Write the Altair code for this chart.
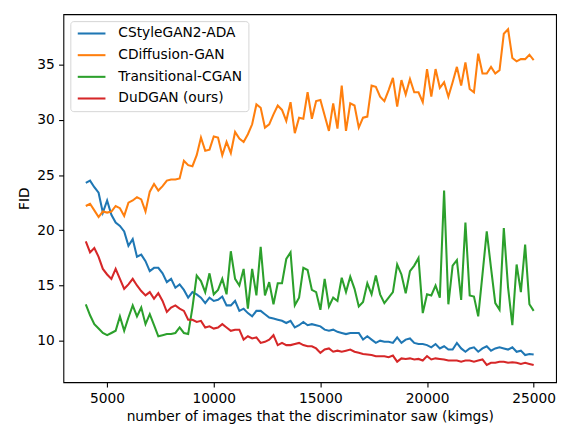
import altair as alt
import pandas as pd

kimg = list(range(4000, 25001, 200))

cstylegan2_ada = [24.3, 24.5, 23.9, 23.4, 21.6, 22.7, 21.4, 20.7, 20.4, 19.9,
                  18.6, 19.2, 17.6, 17.8, 17.2, 16.3, 16.6, 16.6, 16.1, 15.3,
                  15.6, 14.8, 15.1, 14.6, 13.9, 14.4, 14.2, 13.9, 13.4, 13.9,
                  13.6, 13.7, 14.0, 13.2, 13.2, 13.6, 12.7, 12.9, 12.5, 12.2,
                  12.7, 12.7, 12.4, 12.1, 12.0, 11.9, 11.8, 11.6, 11.8, 11.2,
                  11.4, 11.7, 11.4, 11.5, 11.4, 11.3, 11.0, 10.9, 11.0, 10.8,
                  10.7, 10.6, 10.7, 10.7, 10.7, 10.1, 10.4, 10.1, 9.8, 10.0,
                  9.9, 9.9, 9.8, 10.3, 9.8, 10.1, 10.2, 9.8, 9.7, 9.7,
                  9.6, 9.4, 9.7, 9.3, 9.5, 9.2, 9.2, 9.8, 9.3, 9.0,
                  9.3, 9.4, 9.0, 9.3, 9.5, 9.1, 9.3, 9.4, 9.3, 9.2,
                  9.4, 9.0, 9.1, 8.7, 8.8, 8.75]

cdiffusion_gan = [22.2, 22.4, 21.8, 21.2, 21.7, 21.6, 21.7, 22.2, 22.0, 21.3,
                  22.5, 22.7, 23.0, 22.8, 21.7, 23.5, 24.2, 23.6, 24.0, 24.5,
                  24.6, 24.6, 24.7, 26.3, 25.9, 25.8, 26.8, 28.4, 27.2, 27.3,
                  28.5, 28.4, 26.8, 28.0, 27.0, 28.9, 28.3, 28.0, 28.7, 29.6,
                  31.4, 31.1, 29.3, 29.6, 30.5, 31.3, 30.9, 29.9, 31.6, 28.8,
                  30.2, 30.1, 32.5, 30.1, 31.7, 31.8, 30.4, 29.0, 31.5, 29.2,
                  33.1, 29.0, 31.5, 31.3, 29.3, 30.2, 30.3, 33.1, 33.0, 32.1,
                  31.7, 32.7, 33.8, 31.2, 33.6, 32.3, 33.7, 32.5, 32.5, 31.6,
                  34.6, 32.1, 34.6, 32.9, 33.4, 32.1, 33.4, 34.8, 33.1, 35.2,
                  32.8, 32.5, 36.0, 34.2, 34.2, 34.8, 34.2, 34.5, 37.8, 38.2,
                  35.6, 35.3, 35.5, 35.5, 35.9, 35.4]

transitional_cgan = [13.3, 12.3, 11.5, 11.1, 10.7, 10.5, 10.7, 10.9, 12.2, 10.9,
                     12.1, 13.2, 12.2, 13.0, 11.5, 12.4, 11.4, 10.4, 10.5, 10.6,
                     10.6, 10.7, 11.2, 10.7, 10.6, 13.0, 15.9, 15.4, 14.4, 16.1,
                     14.2, 14.6, 15.6, 14.2, 18.1, 15.6, 15.0, 16.5, 12.9, 16.5,
                     14.1, 18.5, 14.1, 15.3, 13.3, 15.2, 15.2, 17.4, 18.0, 13.2,
                     13.9, 16.6, 16.4, 14.6, 14.4, 12.8, 15.6, 13.1, 13.9, 13.6,
                     15.7, 14.4, 15.8, 14.7, 13.1, 13.5, 15.2, 14.2, 15.9, 14.2,
                     13.4, 13.9, 14.4, 16.9, 16.0, 14.3, 16.3, 16.8, 17.5, 12.5,
                     14.2, 14.1, 15.0, 13.9, 23.6, 13.3, 16.8, 17.3, 13.7, 20.7,
                     14.1, 14.0, 12.2, 16.0, 19.9, 16.6, 13.4, 12.8, 20.2, 14.8,
                     11.4, 16.9, 14.4, 18.7, 13.3, 12.7]

dudgan = [19.0, 18.0, 18.4, 17.6, 16.5, 16.0, 15.6, 16.5, 15.6, 14.7,
          15.1, 15.6, 15.0, 14.5, 14.1, 14.4, 13.8, 14.3, 13.6, 12.6,
          13.0, 13.2, 12.9, 12.7, 11.9, 11.9, 11.7, 11.8, 11.2, 11.3,
          11.1, 11.2, 11.5, 11.2, 10.9, 11.0, 11.0, 10.1, 10.4, 10.2,
          10.3, 9.8, 9.9, 10.1, 10.5, 9.6, 9.8, 9.6, 9.6, 9.7,
          9.8, 9.6, 9.5, 9.5, 9.3, 8.9, 9.2, 9.3, 9.0, 9.1,
          9.0, 9.1, 9.2, 9.0, 8.9, 8.8, 8.75, 8.7, 8.6, 8.6,
          8.6, 8.5, 8.65, 8.1, 8.4, 8.35, 8.4, 8.3, 8.35, 8.2,
          8.6, 8.3, 8.4, 8.35, 8.3, 8.2, 8.2, 8.2, 8.1, 8.2,
          8.2, 8.1, 8.2, 8.3, 7.8, 8.0, 8.0, 8.1, 8.1, 8.0,
          8.05, 8.0, 7.9, 8.0, 7.9, 7.8]

series_names = ["CStyleGAN2-ADA", "CDiffusion-GAN", "Transitional-CGAN", "DuDGAN (ours)"]
series_values = [cstylegan2_ada, cdiffusion_gan, transitional_cgan, dudgan]
series_colors = ["#1f77b4", "#ff7f0e", "#2ca02c", "#d62728"]

x_ticks = [5000, 10000, 15000, 20000, 25000]
y_ticks = [10, 15, 20, 25, 30, 35]

rows = []
for k, (name, vals) in enumerate(zip(series_names, series_values)):
    for x, v in zip(kimg, vals):
        rows.append({"kimg": x, "FID": v, "model": name, "k": k})
df = pd.DataFrame(rows)

FONT = "DejaVu Sans"
FS = 13.9
LW = 2.08

chart = alt.Chart(df).mark_line(strokeWidth=LW).encode(
    x=alt.X("kimg:Q",
            scale=alt.Scale(domain=[2950, 26050], nice=False, zero=False),
            axis=alt.Axis(values=x_ticks, format="d", grid=False, domain=False,
                          tickSize=4.86, tickWidth=1.1, tickColor="black",
                          labelPadding=4.5,
                          labelColor="black", labelFont=FONT, labelFontSize=FS,
                          title="number of images that the discriminator saw (kimgs)",
                          titleFont=FONT, titleFontSize=FS, titleFontWeight="normal",
                          titleColor="black", titlePadding=4)),
    y=alt.Y("FID:Q",
            scale=alt.Scale(domain=[6.24, 39.57], nice=False, zero=False),
            axis=alt.Axis(values=y_ticks, grid=False, domain=False,
                          tickSize=4.86, tickWidth=1.1, tickColor="black",
                          labelPadding=4.5,
                          labelColor="black", labelFont=FONT, labelFontSize=FS,
                          title="FID", titleFont=FONT, titleFontSize=FS,
                          titleFontWeight="normal", titleColor="black",
                          titlePadding=5.5)),
    color=alt.Color("model:N",
                    scale=alt.Scale(domain=series_names, range=series_colors),
                    sort=series_names,
                    legend=alt.Legend(title=None, orient="none", legendX=7, legendY=7,
                                      symbolType="M-1,0H4.6", symbolSize=100,
                                      symbolStrokeWidth=LW, labelOffset=29.1,
                                      labelFont=FONT, labelFontSize=FS,
                                      labelColor="black", padding=5.56, rowPadding=6.9,
                                      strokeColor="#d6d6d6", fillColor="white",
                                      cornerRadius=3)),
    order=alt.Order("k:Q"),
).properties(
    width=498, height=372,
    autosize="none",
    padding={"left": 56, "top": 4, "right": 6, "bottom": 43},
).configure_view(stroke="black", strokeWidth=1.1)

chart.save("out.html", embed_options={"renderer": "svg", "actions": False})
